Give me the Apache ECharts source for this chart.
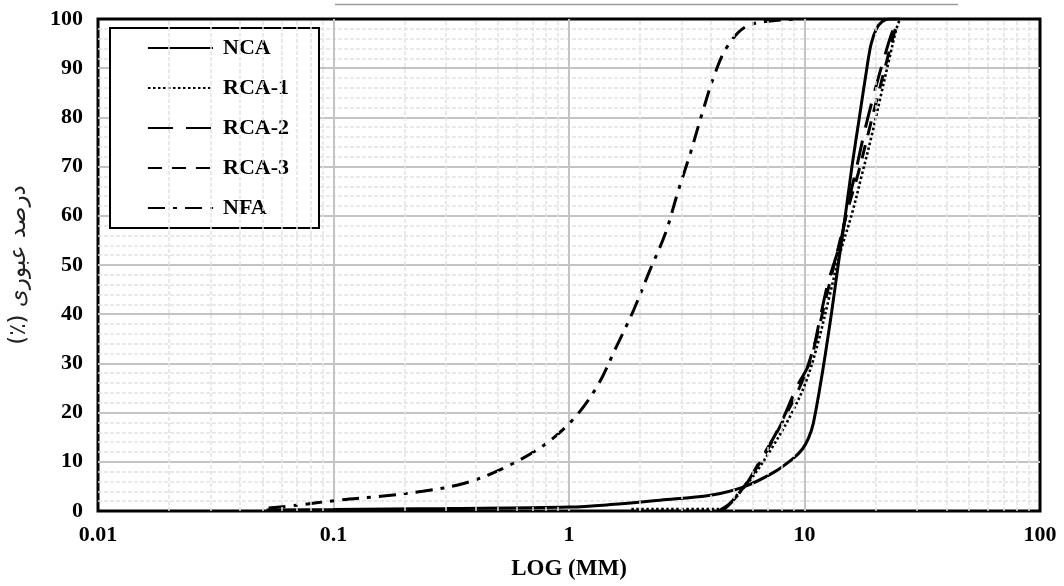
<!DOCTYPE html>
<html>
	<head>
		<meta charset="utf-8" />
		<title>Grading</title>
		<script src="https://cdn.jsdelivr.net/npm/echarts@6/dist/echarts.min.js"></script>
		<style>
			html, body {
				margin: 0;
				padding: 0;
				background: #fff;
			}
			#main {
				width: 1064px;
				height: 586px;
			}
		</style>
	</head>

	<body>
		<div id="main"></div>
		<script type="text/javascript">
			// sieve size (mm) / passing (%)
			var ncaSize = [0.052, 0.1, 0.3, 1.0, 1.5, 2.44, 3.98, 5.45, 7.37, 8.96, 9.8, 10.4, 10.9, 11.9, 13.0, 13.9, 14.9, 15.9, 17.1, 18.4, 19.2, 20.2, 21.4, 23, 25.4];
			var ncaPass = [0.2, 0.3, 0.5, 0.8, 1.3, 2.2, 3.2, 4.8, 7.8, 10.7, 12.6, 14.8, 17.8, 28, 40, 50, 60, 70, 80, 90, 95, 98, 99.5, 100, 100];

			var rca1Size = [1.84, 4.39, 5.24, 6.0, 7.16, 8.7, 10.17, 11.44, 12.74, 14.18, 15.94, 17.58, 19.38, 21.16, 22.88, 24.51, 25.4];
			var rca1Pass = [0.4, 0.4, 3.6, 6.8, 12.3, 19.3, 26.4, 34.4, 43.5, 52.5, 60.6, 68.6, 76.7, 84.7, 91.8, 97.8, 100];

			var rca2Size = [4.31, 4.84, 5.61, 6.49, 7.74, 9.32, 10.58, 11.55, 12.61, 14.18, 15.33, 16.42, 18.1, 19.96, 22.0, 23.79, 25.4];
			var rca2Pass = [0, 1.6, 5.2, 10.3, 16.7, 25.4, 30.4, 38.4, 46.5, 54.5, 62.6, 68.6, 77.7, 85.7, 92.8, 97.8, 100];

			var rca3Size = [4.48, 4.99, 5.77, 6.82, 8.29, 9.78, 11.11, 12.37, 13.91, 15.33, 16.9, 18.64, 20.55, 22.44, 24.27, 25.4];
			var rca3Pass = [0, 2.2, 6.2, 11.7, 19.3, 26.4, 34.4, 43.5, 53.5, 61.6, 68.6, 76.7, 84.7, 91.8, 97.8, 100];

			var nfaSize = [0.053, 0.071, 0.105, 0.159, 0.239, 0.357, 0.5, 0.757, 1.035, 1.32, 1.575, 1.88, 2.195, 2.57, 2.89, 3.28, 3.68, 4.18, 4.70, 5.61, 7.16, 9.6];
			var nfaPass = [0.6, 1.2, 2.2, 3.0, 4.0, 5.6, 8.2, 12.9, 18.5, 25.4, 33.0, 40.8, 48.7, 56.5, 64.6, 72.8, 80.9, 89.1, 94.4, 98.4, 99.6, 100];

			var seriesNames = ['NCA', 'RCA-1', 'RCA-2', 'RCA-3', 'NFA'];
			var xTicks = [0.01, 0.1, 1, 10, 100];
			var yTicks = [0, 10, 20, 30, 40, 50, 60, 70, 80, 90, 100];

			// minor vertical grid lines at 2..9 of each decade
			var minorX = [];
			for(var d = 0; d < xTicks.length - 1; d++) {
				for(var k = 2; k <= 9; k++) {
					minorX.push(+(xTicks[d] * k).toPrecision(3));
				}
			}

			function pairs(xs, ys) {
				var out = [];
				for(var i = 0; i < xs.length; i++) {
					out.push([xs[i], ys[i]]);
				}
				return out;
			}

			var serif = 'Liberation Serif';
			var dashes = {
				'NCA': 'solid',
				'RCA-1': [2.5, 2.5],
				'RCA-2': [25, 13],
				'RCA-3': [14, 10],
				'NFA': [17, 8, 4, 8]
			};
			var widths = { 'NCA': 3, 'RCA-1': 2.6, 'RCA-2': 3, 'RCA-3': 3, 'NFA': 3 };
			var dataSets = {
				'NCA': pairs(ncaSize, ncaPass),
				'RCA-1': pairs(rca1Size, rca1Pass),
				'RCA-2': pairs(rca2Size, rca2Pass),
				'RCA-3': pairs(rca3Size, rca3Pass),
				'NFA': pairs(nfaSize, nfaPass)
			};

			var series = [{
				name: 'grid-minor',
				type: 'line',
				data: [],
				silent: true,
				markLine: {
					silent: true,
					symbol: 'none',
					animation: false,
					label: { show: false },
					lineStyle: { color: '#e2e2e2', type: [4, 2], width: 1.5 },
					data: minorX.map(function(v) { return { xAxis: v }; })
				}
			}];
			seriesNames.forEach(function(n) {
				series.push({
					name: n,
					type: 'line',
					data: dataSets[n],
					symbol: 'none',
					smooth: 0.35,
					lineStyle: { color: '#000', width: widths[n], type: dashes[n], cap: 'butt' },
					itemStyle: { color: '#000' }
				});
			});

			var myChart = echarts.init(document.getElementById('main'));
			var option = {
				animation: false,
				backgroundColor: '#fff',
				grid: {
					left: 97,
					right: 24,
					top: 19,
					bottom: 70,
					show: true,
					borderColor: '#000',
					borderWidth: 3,
					backgroundColor: '#fff'
				},
				legend: {
					data: seriesNames,
					orient: 'vertical',
					left: 110,
					top: 28,
					padding: [9, 30, 9, 37],
					itemWidth: 65,
					itemHeight: 18,
					itemGap: 18,
					backgroundColor: '#fff',
					borderColor: '#000',
					borderWidth: 2,
					itemStyle: { opacity: 0 },
					textStyle: {
						fontFamily: serif,
						fontWeight: 'bold',
						fontSize: 22,
						color: '#000',
						padding: [0, 0, 0, 5]
					}
				},
				xAxis: {
					type: 'log',
					logBase: 10,
					min: xTicks[0],
					max: xTicks[xTicks.length - 1],
					name: 'LOG (MM)',
					nameLocation: 'middle',
					nameGap: 47,
					nameTextStyle: { fontFamily: serif, fontWeight: 'bold', fontSize: 23, color: '#000' },
					axisLine: { show: false },
					axisTick: { show: false },
					axisLabel: {
						margin: 13,
						fontFamily: serif,
						fontWeight: 'bold',
						fontSize: 22,
						color: '#000',
						formatter: function(v) { return String(+v.toPrecision(2)); }
					},
					splitLine: { show: true, showMinLine: false, showMaxLine: false, lineStyle: { color: '#c4c4c4', width: 2 } }
				},
				yAxis: {
					type: 'value',
					min: yTicks[0],
					max: yTicks[yTicks.length - 1],
					interval: 10,
					name: '\u200Fدرصد عبوری (٪)\u200F',
					nameLocation: 'middle',
					nameRotate: 90,
					nameGap: 67,
					nameTextStyle: { fontFamily: 'DejaVu Sans', fontSize: 23, color: '#222' },
					axisLine: { show: false },
					axisTick: { show: false },
					axisLabel: {
						margin: 15,
						fontFamily: serif,
						fontWeight: 'bold',
						fontSize: 22,
						color: '#000'
					},
					splitLine: { show: true, showMinLine: false, showMaxLine: false, lineStyle: { color: '#c4c4c4', width: 2 } },
					minorTick: { show: false, splitNumber: 5 },
					minorSplitLine: { show: true, lineStyle: { color: '#e2e2e2', type: [4, 2], width: 1.5 } }
				},
				graphic: [{
					type: 'line',
					shape: { x1: 335, y1: 4.5, x2: 958, y2: 4.5 },
					style: { stroke: '#9a9a9a', lineWidth: 1.5 },
					silent: true
				}],
				series: series
			};
			myChart.setOption(option);
		</script>
	</body>

</html>
